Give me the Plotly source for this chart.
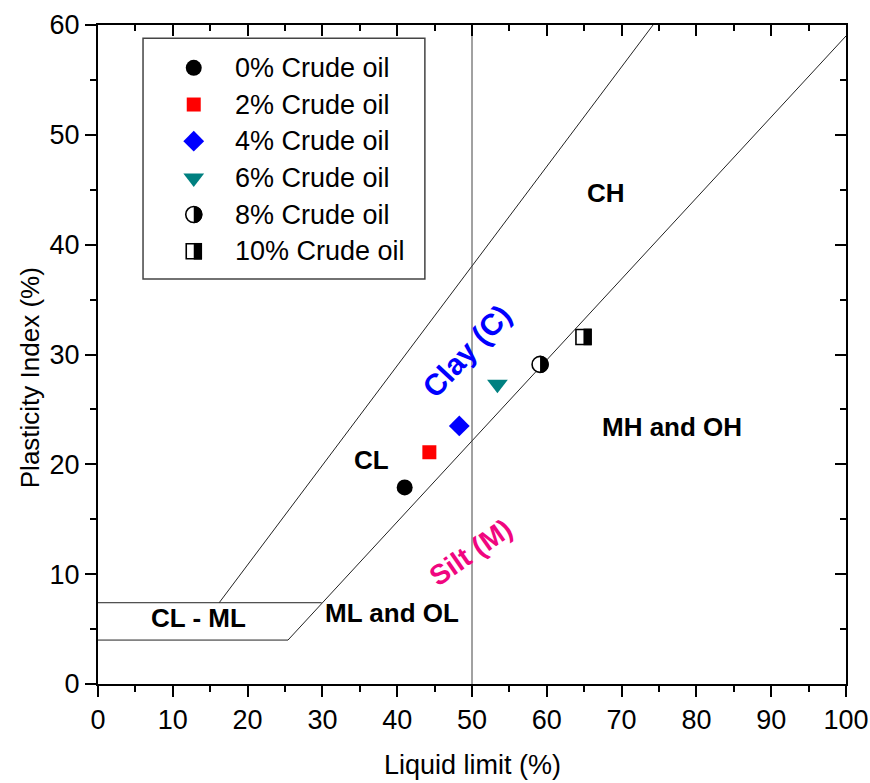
import plotly.graph_objects as go

# ---------------- data ----------------
series_names = ["0% Crude oil", "2% Crude oil", "4% Crude oil",
                "6% Crude oil", "8% Crude oil", "10% Crude oil"]
liquid_limit = [41.0, 44.3, 48.3, 53.4, 59.1, 64.9]
plasticity_index = [17.9, 21.1, 23.5, 27.3, 29.1, 31.6]

# chart boundary lines (Casagrande chart)
u_line_ll = [16.2, 74.2]
u_line_pi = [7.4, 60.0]
a_line_ll = [25.4, 100.0]
a_line_pi = [4.0, 59.0]
clml_top_ll = [0.0, 29.9]
clml_top_pi = [7.4, 7.4]
clml_bot_ll = [0.0, 25.4]
clml_bot_pi = [4.0, 4.0]
ll50_ll = [50.0, 50.0]
ll50_pi = [0.0, 60.0]

region_labels = ["CH", "MH and OH", "CL", "CL - ML", "ML and OL", "Clay (C)", "Silt (M)"]
region_ll = [67.9, 76.7, 36.6, 13.5, 39.3, 49.2, 49.8]
region_pi = [44.7, 23.4, 20.4, 6.0, 6.5, 30.3, 12.0]

x_ticks = [0, 10, 20, 30, 40, 50, 60, 70, 80, 90, 100]
y_ticks = [0, 10, 20, 30, 40, 50, 60]

# ---------------- styles ----------------
FONT = "Liberation Sans, Arial, Helvetica, sans-serif"
NARROW = "Liberation Sans Narrow, Arial Narrow, Liberation Sans, Arial, sans-serif"

marker_styles = [
    dict(symbol="circle", size=16, color="black", line=dict(width=0)),
    dict(symbol="square", size=14, color="#FF0000", line=dict(width=0)),
    dict(symbol="diamond", size=16, color="#0000FF", line=dict(width=0)),
    dict(symbol="triangle-down", size=18, color="#008080", line=dict(width=0)),
    dict(symbol="circle", size=16, color="white", line=dict(width=1.6, color="black")),
    dict(symbol="square", size=15, color="white", line=dict(width=1.6, color="black")),
]
half_kind = [None, None, None, None, "circle", "square"]

region_styles = [
    dict(color="black", angle=0, size=26),
    dict(color="black", angle=0, size=26),
    dict(color="black", angle=0, size=26),
    dict(color="black", angle=0, size=26),
    dict(color="black", angle=0, size=26),
    dict(color="#0000FF", angle=-47, size=30),
    dict(color="#F0067F", angle=-35, size=28),
]

fig = go.Figure()

line_style = dict(color="#222222", width=1)
for xs, ys in [(u_line_ll, u_line_pi), (a_line_ll, a_line_pi),
               (clml_top_ll, clml_top_pi), (clml_bot_ll, clml_bot_pi)]:
    fig.add_trace(go.Scatter(x=xs, y=ys, mode="lines", line=line_style,
                             showlegend=False, hoverinfo="skip"))
fig.add_trace(go.Scatter(x=ll50_ll, y=ll50_pi, mode="lines",
                         line=dict(color="#444444", width=1),
                         showlegend=False, hoverinfo="skip"))

shapes = []


def half_shape(kind, xa, ya, xref="x", yref="y"):
    if kind == "circle":
        r = 8.6
        k = 0.5523 * r
        path = (f"M 0,{-r} C {k},{-r} {r},{-k} {r},0 "
                f"C {r},{k} {k},{r} 0,{r} Z")
        return dict(type="path", xref=xref, yref=yref, xsizemode="pixel",
                    ysizemode="pixel", xanchor=xa, yanchor=ya, path=path,
                    fillcolor="black", line=dict(width=0), layer="above")
    else:
        return dict(type="rect", xref=xref, yref=yref, xsizemode="pixel",
                    ysizemode="pixel", xanchor=xa, yanchor=ya,
                    x0=0, x1=8.3, y0=-8.3, y1=8.3,
                    fillcolor="black", line=dict(width=0), layer="above")


for i, name in enumerate(series_names):
    fig.add_trace(go.Scatter(x=[liquid_limit[i]], y=[plasticity_index[i]],
                             mode="markers", marker=marker_styles[i], name=name,
                             showlegend=False))
    if half_kind[i]:
        shapes.append(half_shape(half_kind[i], liquid_limit[i], plasticity_index[i]))

# ---------------- manual legend ----------------
legend_marker_x = 12.8
legend_top_pi = 56.1
legend_step_pi = 3.34
annotations = []
for i, name in enumerate(series_names):
    ry = legend_top_pi - i * legend_step_pi
    fig.add_trace(go.Scatter(x=[legend_marker_x], y=[ry], mode="markers",
                             marker=marker_styles[i], showlegend=False,
                             hoverinfo="skip"))
    if half_kind[i]:
        shapes.append(half_shape(half_kind[i], legend_marker_x, ry))
    annotations.append(dict(x=18.0, y=ry, xref="x", yref="y", text=name,
                            showarrow=False, xanchor="left", yanchor="middle",
                            font=dict(family=FONT, size=27, color="black")))

shapes.append(dict(type="rect", xref="paper", yref="paper",
                   x0=0.0602, x1=0.437, y0=0.6146, y1=0.980,
                   line=dict(color="#444444", width=1.5),
                   fillcolor="white", layer="below"))

# ---------------- region labels ----------------
for lab, xv, yv, st in zip(region_labels, region_ll, region_pi, region_styles):
    annotations.append(dict(x=xv, y=yv, xref="x", yref="y",
                            text=f"<b>{lab}</b>", showarrow=False,
                            textangle=st["angle"],
                            font=dict(family=FONT, size=st["size"], color=st["color"])))

# axis titles
annotations.append(dict(x=0.5, y=-0.1229, xref="paper", yref="paper",
                        text="Liquid limit (%)", showarrow=False,
                        xanchor="center", yanchor="middle",
                        font=dict(family=FONT, size=27, color="black")))
annotations.append(dict(x=-0.0909, y=0.464, xref="paper", yref="paper",
                        text="Plasticity Index (%)", showarrow=False,
                        textangle=-90, xanchor="center", yanchor="middle",
                        font=dict(family=FONT, size=26, color="black")))

# dummy trace to activate mirror axes
fig.add_trace(go.Scatter(x=[None], y=[None], xaxis="x2", yaxis="y2",
                         showlegend=False, hoverinfo="skip"))

axis_common = dict(showgrid=False, zeroline=False, showline=True,
                   linecolor="black", linewidth=2, tickcolor="black",
                   tickwidth=2, ticklen=11, automargin=False)

fig.update_layout(
    width=870, height=783,
    margin=dict(l=98, r=24, t=25, b=99),
    paper_bgcolor="white", plot_bgcolor="white",
    showlegend=False,
    xaxis=dict(range=[0, 100], tickvals=x_ticks, ticks="outside",
               minor=dict(dtick=5, ticks="outside", ticklen=6,
                          tickwidth=2, tickcolor="black"),
               tickfont=dict(family=NARROW, size=27, color="black"),
               **axis_common),
    yaxis=dict(range=[0, 60], tickvals=y_ticks, ticks="outside",
               minor=dict(dtick=5, ticks="outside", ticklen=6,
                          tickwidth=2, tickcolor="black"),
               tickfont=dict(family=FONT, size=27, color="black"),
               **axis_common),
    xaxis2=dict(range=[0, 100], tickvals=x_ticks, overlaying="x", side="top",
                anchor="y", ticks="inside", showticklabels=False,
                minor=dict(dtick=5, ticks="inside", ticklen=6,
                           tickwidth=2, tickcolor="black"),
                **axis_common),
    yaxis2=dict(range=[0, 60], tickvals=y_ticks, overlaying="y", side="right",
                anchor="x", ticks="inside", showticklabels=False,
                minor=dict(dtick=5, ticks="inside", ticklen=6,
                           tickwidth=2, tickcolor="black"),
                **axis_common),
    shapes=shapes,
    annotations=annotations,
)

fig.write_html("out.html")
